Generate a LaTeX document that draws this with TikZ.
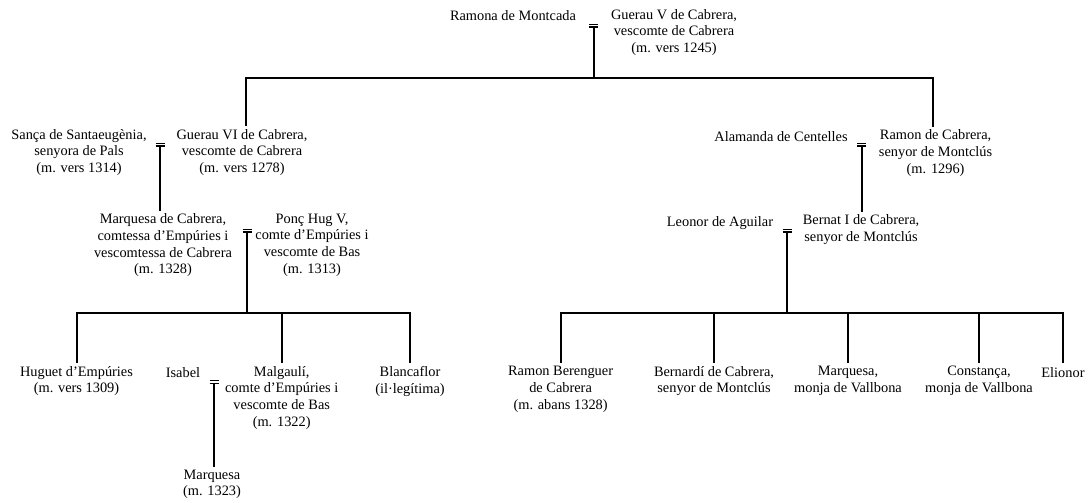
\documentclass[tikz,border=0pt]{standalone}
\usepackage{fontspec}
\setmainfont{Liberation Serif}
\begin{document}
\begin{tikzpicture}[x=0.75pt,y=-0.75pt,
  person/.style={align=center, anchor=north, inner xsep=0pt, inner ysep=2.25pt,
    font={\fontsize{10.77}{12.5}\selectfont}, execute at begin node=\strut},
  link/.style={line width=1.5pt},
  bar/.style={line width=0.9pt},
  wed/.pic={\draw[bar] (-4.5,0) -- (4.5,0); \draw[bar] (-4.5,2.7) -- (4.5,2.7);}]
\useasboundingbox (0,0) rectangle (1089,503);

% row 1
\node[person] (ramona) at (513,5.8) {Ramona de Montcada};
\node[person] (gueraV) at (674,5.8) {Guerau V de Cabrera,\\vescomte de Cabrera\\(m. vers 1245)};
% row 2
\node[person] (sanca) at (79,126) {Sança de Santaeugènia,\\senyora de Pals\\(m. vers 1314)};
\node[person] (gueraVI) at (242,126) {Guerau VI de Cabrera,\\vescomte de Cabrera\\(m. vers 1278)};
\node[person] (alamanda) at (781,126.5) {Alamanda de Centelles};
\node[person] (ramonC) at (935.6,126.5) {Ramon de Cabrera,\\senyor de Montclús\\(m. 1296)};
% row 3
\node[person] (marquesaC) at (163,210.5) {Marquesa de Cabrera,\\comtessa d’Empúries i\\vescomtessa de Cabrera\\(m. 1328)};
\node[person] (ponc) at (312,210.5) {Ponç Hug V,\\comte d’Empúries i\\vescomte de Bas\\(m. 1313)};
\node[person] (leonor) at (720,211.5) {Leonor de Aguilar};
\node[person] (bernat) at (861,211.5) {Bernat I de Cabrera,\\senyor de Montclús};
% row 4
\node[person] (huguet) at (76.5,363) {Huguet d’Empúries\\(m. vers 1309)};
\node[person] (isabel) at (183,363) {Isabel};
\node[person] (malgauli) at (281.7,363) {Malgaulí,\\comte d’Empúries i\\vescomte de Bas\\(m. 1322)};
\node[person] (blancaflor) at (410,363) {Blancaflor\\(il·legítima)};
\node[person] (ramonB) at (560.6,363) {Ramon Berenguer\\de Cabrera\\(m. abans 1328)};
\node[person] (bernardi) at (714,363) {Bernardí de Cabrera,\\senyor de Montclús};
\node[person] (marquesaV) at (848,363) {Marquesa,\\monja de Vallbona};
\node[person] (constanca) at (979,363) {Constança,\\monja de Vallbona};
\node[person] (elionor) at (1063,363) {Elionor};
% row 5
\node[person] (marquesaE) at (212,466.5) {Marquesa\\(m. 1323)};

% marriages
\coordinate (m1) at (593.5,24.3);
\coordinate (m2) at (160,143.3);
\coordinate (m3) at (861.7,143.3);
\coordinate (m4) at (247,229.3);
\coordinate (m5) at (787,229.3);
\coordinate (m6) at (214,380.7);
\foreach \m in {m1,m2,m3,m4,m5,m6} { \pic at (\m) {wed}; }

% buses
\coordinate (b1L) at (246,77.7);
\coordinate (b1R) at (933,77.7);
\coordinate (b3L) at (76.5,313);
\coordinate (b3R) at (410,313);
\coordinate (b4L) at (560.6,313);
\coordinate (b4R) at (1063,313);

% generation 1 -> 2
\draw[link] ([yshift=-2pt]m1) -- (m1 |- b1L);
\draw[link] (gueraVI.north -| b1L) -- (b1L) -- (b1R) -- (ramonC.north -| b1R);
% generation 2 -> 3
\draw[link] ([yshift=-2pt]m2) -- (marquesaC.north -| m2);
\draw[link] ([yshift=-2pt]m3) -- (bernat.north -| m3);
% generation 3 -> 4 (left)
\draw[link] ([yshift=-2pt]m4) -- (m4 |- b3L);
\draw[link] (huguet.north) -- (b3L) -- (b3R) -- (blancaflor.north);
\draw[link] (malgauli.north) -- (malgauli.north |- b3L);
% generation 3 -> 4 (right)
\draw[link] ([yshift=-2pt]m5) -- (m5 |- b4L);
\draw[link] (ramonB.north) -- (b4L) -- (b4R) -- (elionor.north);
\draw[link] (bernardi.north) -- (bernardi.north |- b4L);
\draw[link] (marquesaV.north) -- (marquesaV.north |- b4L);
\draw[link] (constanca.north) -- (constanca.north |- b4L);
% generation 4 -> 5
\draw[link] ([yshift=-2pt]m6) -- (marquesaE.north -| m6);
\end{tikzpicture}
\end{document}
